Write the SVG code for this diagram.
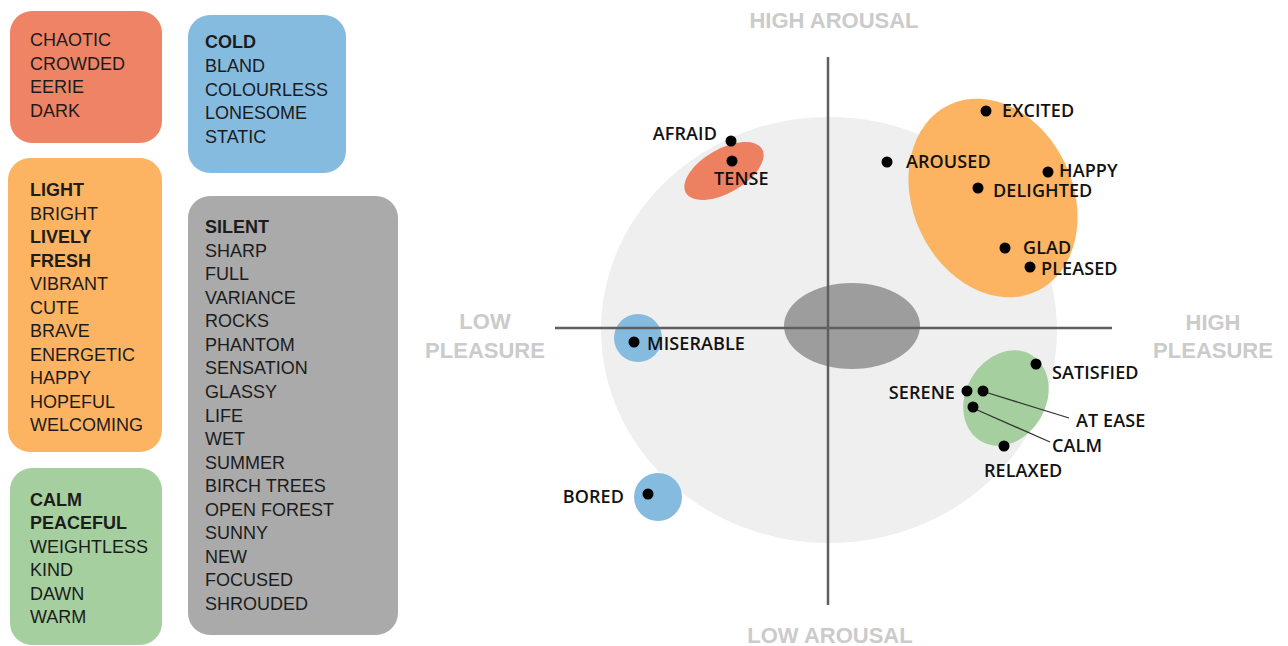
<svg xmlns="http://www.w3.org/2000/svg" width="1288" height="646" viewBox="0 0 1288 646">
<style>
.bt{font-family:"Liberation Sans",Arial,sans-serif;font-size:18px;fill:#1c1c1c}
.b{font-weight:bold}
.ax{font-family:"Liberation Sans",Arial,sans-serif;font-size:22px;font-weight:bold;fill:#cbcbcb;text-anchor:middle}
.lb{font-family:"Open Sans",sans-serif;font-size:18px;font-weight:600;fill:#111;letter-spacing:0.1px}
.dot{fill:#000}
.axis{stroke:#5f5f5f;stroke-width:2.5;fill:none}
.lead{stroke:#333;stroke-width:1.3;fill:none}
</style>
<rect width="1288" height="646" fill="#fff"/>
<g id="box-red">
<rect x="10" y="11" width="152" height="132" rx="22" fill="#ee8465"/>
<text class="bt" x="30" y="46">CHAOTIC</text>
<text class="bt" x="30" y="69.5">CROWDED</text>
<text class="bt" x="30" y="93">EERIE</text>
<text class="bt" x="30" y="116.5">DARK</text>
</g>
<g id="box-blue">
<rect x="188" y="15" width="158" height="158" rx="22" fill="#86bbe0"/>
<text class="bt b" x="205" y="48">COLD</text>
<text class="bt" x="205" y="71.75">BLAND</text>
<text class="bt" x="205" y="95.5">COLOURLESS</text>
<text class="bt" x="205" y="119.25">LONESOME</text>
<text class="bt" x="205" y="143">STATIC</text>
</g>
<g id="box-orange">
<rect x="8" y="158" width="154" height="294" rx="22" fill="#fdb462"/>
<text class="bt b" x="30" y="196">LIGHT</text>
<text class="bt" x="30" y="219.5">BRIGHT</text>
<text class="bt b" x="30" y="243">LIVELY</text>
<text class="bt b" x="30" y="266.5">FRESH</text>
<text class="bt" x="30" y="290">VIBRANT</text>
<text class="bt" x="30" y="313.5">CUTE</text>
<text class="bt" x="30" y="337">BRAVE</text>
<text class="bt" x="30" y="360.5">ENERGETIC</text>
<text class="bt" x="30" y="384">HAPPY</text>
<text class="bt" x="30" y="407.5">HOPEFUL</text>
<text class="bt" x="30" y="431">WELCOMING</text>
</g>
<g id="box-gray">
<rect x="188" y="196" width="210" height="439" rx="22" fill="#aaaaaa"/>
<text class="bt b" x="205" y="233">SILENT</text>
<text class="bt" x="205" y="256.6">SHARP</text>
<text class="bt" x="205" y="280.1">FULL</text>
<text class="bt" x="205" y="303.7">VARIANCE</text>
<text class="bt" x="205" y="327.2">ROCKS</text>
<text class="bt" x="205" y="350.8">PHANTOM</text>
<text class="bt" x="205" y="374.4">SENSATION</text>
<text class="bt" x="205" y="397.9">GLASSY</text>
<text class="bt" x="205" y="421.5">LIFE</text>
<text class="bt" x="205" y="445">WET</text>
<text class="bt" x="205" y="468.6">SUMMER</text>
<text class="bt" x="205" y="492.2">BIRCH TREES</text>
<text class="bt" x="205" y="515.7">OPEN FOREST</text>
<text class="bt" x="205" y="539.3">SUNNY</text>
<text class="bt" x="205" y="562.8">NEW</text>
<text class="bt" x="205" y="586.4">FOCUSED</text>
<text class="bt" x="205" y="610">SHROUDED</text>
</g>
<g id="box-green">
<rect x="10" y="468" width="152" height="177" rx="22" fill="#a6cf9f"/>
<text class="bt b" x="30" y="506">CALM</text>
<text class="bt b" x="30" y="529.4">PEACEFUL</text>
<text class="bt" x="30" y="552.8">WEIGHTLESS</text>
<text class="bt" x="30" y="576.2">KIND</text>
<text class="bt" x="30" y="599.6">DAWN</text>
<text class="bt" x="30" y="623">WARM</text>
</g>
<g id="chart-background">
<ellipse cx="829" cy="330" rx="228" ry="213" fill="#efefef"/>
<ellipse cx="852" cy="326" rx="68" ry="43" fill="#9d9d9d"/>
</g>
<g id="region-red"><ellipse cx="724" cy="171" rx="44" ry="22" transform="rotate(-30 724 171)" fill="#ee8062"/></g>
<g id="region-orange"><ellipse cx="993" cy="198" rx="80" ry="103" transform="rotate(-25 993 198)" fill="#fdb462"/></g>
<g id="region-green"><ellipse cx="1006" cy="398" rx="40" ry="50" transform="rotate(30 1006 398)" fill="#a6cf9f"/></g>
<g id="region-blue-miserable"><circle cx="638" cy="338" r="24" fill="#86bbe0"/></g>
<g id="region-blue-bored"><circle cx="658" cy="497" r="24" fill="#86bbe0"/></g>
<g id="connectors">
<line class="axis" x1="828" y1="57" x2="828" y2="605"/>
<line class="axis" x1="555" y1="328" x2="1112" y2="328"/>
<line class="lead" x1="985" y1="392" x2="1069" y2="418"/>
<line class="lead" x1="975" y1="409" x2="1050" y2="442"/>
</g>
<g id="axis-labels">
<text class="ax" x="834" y="28">HIGH AROUSAL</text>
<text class="ax" x="830" y="643">LOW AROUSAL</text>
<text class="ax" x="485" y="329">LOW</text>
<text class="ax" x="485" y="358">PLEASURE</text>
<text class="ax" x="1213" y="330">HIGH</text>
<text class="ax" x="1213" y="358">PLEASURE</text>
</g>
<g id="afraid"><circle class="dot" cx="731" cy="141" r="5.5"/><text class="lb" x="717" y="140" text-anchor="end">AFRAID</text></g>
<g id="tense"><circle class="dot" cx="732" cy="161" r="5.5"/><text class="lb" x="714" y="185">TENSE</text></g>
<g id="aroused"><circle class="dot" cx="887" cy="162" r="5.5"/><text class="lb" x="906" y="168">AROUSED</text></g>
<g id="excited"><circle class="dot" cx="986" cy="111" r="5.5"/><text class="lb" x="1002" y="117">EXCITED</text></g>
<g id="happy"><circle class="dot" cx="1048" cy="172" r="5.5"/><text class="lb" x="1059" y="177">HAPPY</text></g>
<g id="delighted"><circle class="dot" cx="978" cy="188" r="5.5"/><text class="lb" x="993" y="197">DELIGHTED</text></g>
<g id="glad"><circle class="dot" cx="1005" cy="248" r="5.5"/><text class="lb" x="1023" y="254">GLAD</text></g>
<g id="pleased"><circle class="dot" cx="1030" cy="267" r="5.5"/><text class="lb" x="1041" y="275">PLEASED</text></g>
<g id="miserable"><circle class="dot" cx="634" cy="342" r="5.5"/><text class="lb" x="647" y="350">MISERABLE</text></g>
<g id="bored"><circle class="dot" cx="648" cy="494" r="5.5"/><text class="lb" x="624" y="503" text-anchor="end">BORED</text></g>
<g id="satisfied"><circle class="dot" cx="1036" cy="364" r="5.5"/><text class="lb" x="1052" y="379">SATISFIED</text></g>
<g id="serene"><circle class="dot" cx="967" cy="391" r="5.5"/><text class="lb" x="955" y="399" text-anchor="end">SERENE</text></g>
<g id="at-ease"><circle class="dot" cx="983" cy="391" r="5.5"/><text class="lb" x="1076" y="427">AT EASE</text></g>
<g id="calm"><circle class="dot" cx="973" cy="407" r="5.5"/><text class="lb" x="1052" y="452">CALM</text></g>
<g id="relaxed"><circle class="dot" cx="1004" cy="446" r="5.5"/><text class="lb" x="984" y="477">RELAXED</text></g>
</svg>
